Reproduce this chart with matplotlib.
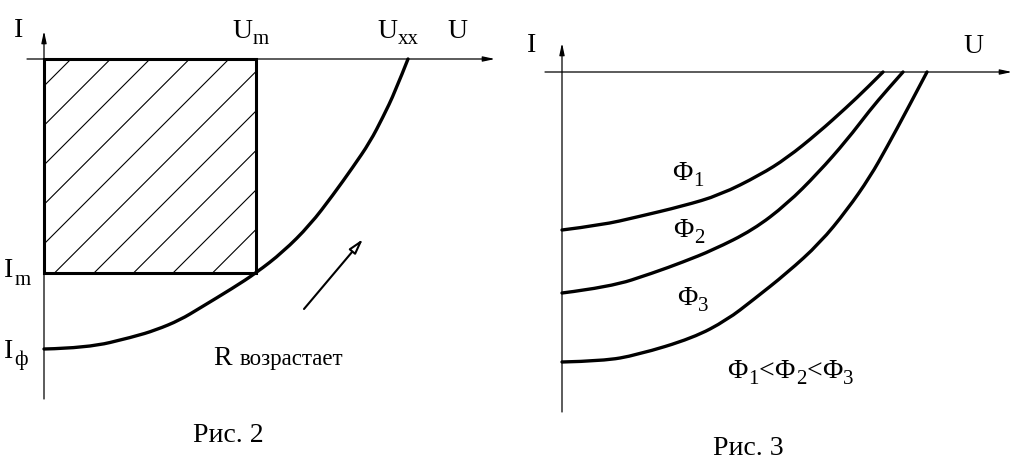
import numpy as np
import matplotlib
matplotlib.use('Agg')
import matplotlib.pyplot as plt
from matplotlib.patches import Rectangle, PathPatch
from matplotlib.path import Path

# Рис. 2 - load curve, origin at the axes crossing (U right, I down)
u_load = [0, 43, 89, 112, 136, 156, 189, 212, 239, 266, 289, 309, 326, 339, 351, 364]
i_load = [-290, -289, -278, -271, -261, -249, -229, -214, -193, -166, -136, -108, -83, -58, -33, 0]
u_m, i_m = 212, -214

# Рис. 3 - curves for three fluxes
u_f1 = [0, 40, 75, 121, 158, 198, 225, 256, 285, 305, 321]
i_f1 = [-158, -153, -145, -134, -123, -103, -86, -61, -35, -16, 0]
u_f2 = [0, 48, 91, 121, 151, 191, 225, 256, 285, 308, 325, 341]
i_f2 = [-221, -215, -201, -190, -178, -158, -132, -101, -68, -38, -18, 0]
u_f3 = [0, 41, 75, 131, 165, 191, 225, 258, 285, 308, 325, 345, 365]
i_f3 = [-290, -289, -283, -266, -248, -228, -201, -171, -138, -105, -75, -38, 0]

SERIF = ['Liberation Serif', 'DejaVu Serif']
BIG = 20
SUB = 15

fig = plt.figure(figsize=(10.3, 4.71), dpi=100)
fig.patch.set_facecolor('white')

# each panel is 515 px wide, 1 data unit = 1 pixel
axL = fig.add_axes([0, 0, 0.5, 1])
axL.set_xlim(-44, 471)
axL.set_ylim(-412, 59)
axR = fig.add_axes([0.5, 0, 0.5, 1])
axR.set_xlim(-47, 468)
axR.set_ylim(-399, 72)
for ax in (axL, axR):
    ax.axis('off')

renderer = fig.canvas.get_renderer()


def smooth_curve(ax, u, i, lw=2.4):
    # quadratic bezier through the midpoints, read points act as control points
    pts = list(zip(u, i))
    verts = [pts[0]]
    codes = [Path.MOVETO]
    for k in range(1, len(pts) - 2):
        mid = ((pts[k][0] + pts[k + 1][0]) / 2, (pts[k][1] + pts[k + 1][1]) / 2)
        verts += [pts[k], mid]
        codes += [Path.CURVE3, Path.CURVE3]
    verts += [pts[-2], pts[-1]]
    codes += [Path.CURVE3, Path.CURVE3]
    ax.add_patch(PathPatch(Path(verts, codes), fill=False, lw=lw, edgecolor='k',
                           capstyle='round', joinstyle='round', zorder=4))


def right_edge(ax, t):
    bb = t.get_window_extent(renderer=renderer)
    return ax.transData.inverted().transform((bb.x1, bb.y0))[0]


def label(ax, x, y, main, sub=None, size=BIG, subsize=SUB, drop=6):
    t = ax.text(x, y, main, fontsize=size, family=SERIF, va='baseline', ha='left')
    if sub is not None:
        ax.text(right_edge(ax, t) + 1, y - drop, sub, fontsize=subsize,
                family=SERIF, va='baseline', ha='left')
    return t


def axis_arrows(ax, xr, yr):
    style = '-|>,head_length=0.7,head_width=0.15'
    ax.annotate('', xy=(xr[1], 0), xytext=(xr[0], 0),
                arrowprops=dict(arrowstyle=style, lw=0.9, color='k',
                                shrinkA=0, shrinkB=0, mutation_scale=10))
    ax.annotate('', xy=(0, yr[1]), xytext=(0, yr[0]),
                arrowprops=dict(arrowstyle=style, lw=0.9, color='k',
                                shrinkA=0, shrinkB=0, mutation_scale=10))


# ---- Рис. 2 ----
axis_arrows(axL, (-17, 451), (-340, 28))
rect = Rectangle((0, i_m), u_m, -i_m, fill=False, lw=2.2, edgecolor='k', zorder=3)
axL.add_patch(rect)
# hatch lines, clipped to the rectangle
xx = np.array([-50, 300])
for c in np.arange(27, 420, 39.5):
    ln, = axL.plot(xx, xx - c, color='k', lw=0.8)
    ln.set_clip_path(rect)
smooth_curve(axL, u_load, i_load)
axL.annotate('', xy=(319, -180), xytext=(260, -250),
             arrowprops=dict(arrowstyle='-|>,head_length=0.9,head_width=0.25',
                             lw=1.5, color='k', shrinkA=0, shrinkB=0, mutation_scale=10,
                             fc='white'))

label(axL, -30, 22, 'I')
label(axL, 188, 21, 'U', 'm')
label(axL, 333, 21, 'U', 'xx')
label(axL, 403, 21, 'U')
label(axL, -40, -218, 'I', 'm', drop=8)
label(axL, -40, -299, 'I', 'ф', drop=7)
t = axL.text(169, -306, 'R', fontsize=BIG, family=SERIF, va='baseline')
axL.text(right_edge(axL, t) + 8, -306, 'возрастает', fontsize=16.5, family=SERIF, va='baseline')
axL.text(149, -383, 'Рис. 2', fontsize=BIG, family=SERIF, va='baseline')

# ---- Рис. 3 ----
axis_arrows(axR, (-17, 450), (-340, 29))
for u, i in ((u_f1, i_f1), (u_f2, i_f2), (u_f3, i_f3)):
    smooth_curve(axR, u, i)

label(axR, -35, 20, 'I')
label(axR, 401, 19, 'U')
label(axR, 110, -108, 'Φ', '1')
label(axR, 111, -165, 'Φ', '2')
label(axR, 115, -233, 'Φ', '3')

# Φ1<Φ2<Φ3 built piece by piece
x0 = 165
for k, part in enumerate(['1', '2', '3']):
    t = axR.text(x0, -306, 'Φ', fontsize=BIG, family=SERIF, va='baseline')
    t = axR.text(right_edge(axR, t) + 1, -312, part, fontsize=SUB, family=SERIF, va='baseline')
    x0 = right_edge(axR, t)
    if k < 2:
        t = axR.text(x0, -306, '<', fontsize=BIG, family=SERIF, va='baseline')
        x0 = right_edge(axR, t)

axR.text(151, -383, 'Рис. 3', fontsize=BIG, family=SERIF, va='baseline')

fig.savefig('out.png', dpi=100, facecolor='white')
